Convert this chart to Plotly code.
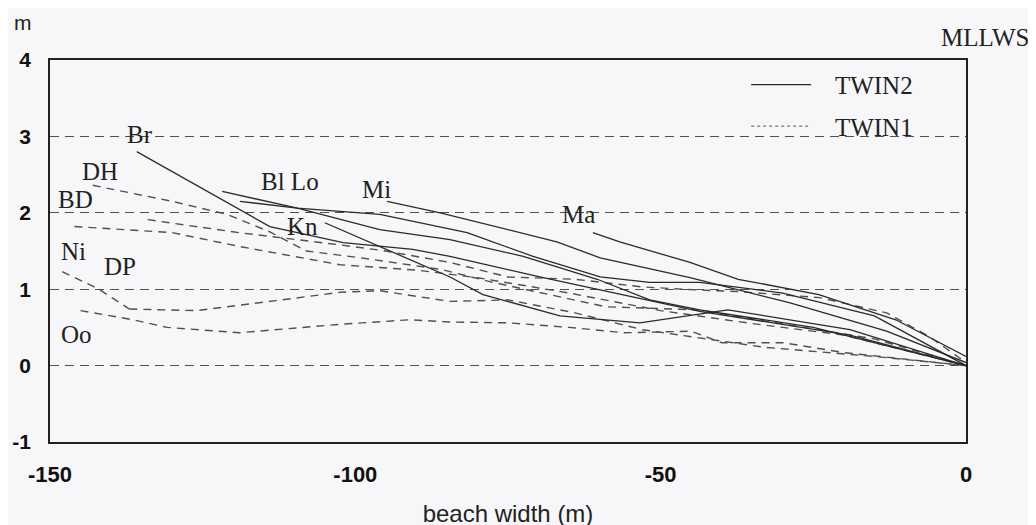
import plotly.graph_objects as go

# ---- data (beach width in m, elevation in m above MLLWS) ----
# TWIN2 profiles (solid)
br_x = [-135.8, -114.0, -102.0, -90.6, -84.5, -69.8, -43.6, -19.0, 0]
br_y = [2.80, 1.82, 1.61, 1.52, 1.43, 1.16, 0.71, 0.40, 0.0]
bl_x = [-121.8, -109.5, -96.0, -81.7, -70.9, -59.9, -51.8, -43.6, -30.0, -15.0, 0]
bl_y = [2.28, 2.06, 1.98, 1.74, 1.43, 1.16, 1.09, 1.09, 0.95, 0.65, 0.0]
lo_x = [-118.9, -109.5, -96.0, -84.5, -72.5, -60.4, -51.8, -43.6, -25.0, 0]
lo_y = [2.15, 2.06, 1.78, 1.65, 1.43, 1.13, 0.86, 0.73, 0.50, 0.0]
kn_x = [-105.0, -84.5, -79.1, -66.5, -53.4, -39.0, -19.0, 0]
kn_y = [1.87, 1.16, 0.93, 0.65, 0.56, 0.73, 0.47, 0.0]
mi_x = [-94.8, -86.1, -67.0, -59.9, -45.2, -28.8, -13.0, 0]
mi_y = [2.15, 2.00, 1.62, 1.41, 1.15, 0.82, 0.45, 0.04]
ma_x = [-61.1, -56.7, -45.2, -37.3, -24.1, -11.5, 0]
ma_y = [1.74, 1.62, 1.35, 1.13, 0.93, 0.60, 0.12]

# TWIN1 profiles (dashed)
dh_x = [-143.0, -130.0, -121.0, -114.0, -108.0, -100.0, -86.0, -78.0, -70.0, -59.0, -44.0, -30.0, -15.0, 0]
dh_y = [2.36, 2.15, 1.98, 1.75, 1.50, 1.42, 1.26, 1.10, 0.96, 0.77, 0.73, 0.55, 0.35, 0.0]
xx_x = [-134.0, -119.0, -102.5, -95.0, -84.5, -75.0, -64.0, -53.0, -44.0, -37.5, -24.0, -13.0, -6.0, 0]
xx_y = [1.91, 1.74, 1.58, 1.50, 1.35, 1.16, 1.13, 1.03, 0.99, 0.97, 0.89, 0.69, 0.38, 0.04]
bd_x = [-146.0, -130.0, -119.0, -102.5, -90.0, -80.0, -65.0, -50.0, -35.0, -20.0, 0]
bd_y = [1.82, 1.74, 1.56, 1.32, 1.25, 1.15, 0.95, 0.72, 0.55, 0.40, 0.0]
ni_x = [-148.0, -142.0, -137.0]
ni_y = [1.23, 1.00, 0.74]
dp_x = [-137.0, -126.0, -113.0, -102.5, -96.0, -84.5, -75.0, -64.0, -53.0, -44.0, -33.0, -15.0, 0]
dp_y = [0.74, 0.72, 0.85, 0.96, 0.98, 0.84, 0.86, 0.69, 0.47, 0.37, 0.24, 0.12, 0.0]
oo_x = [-145.0, -136.4, -130.8, -119.0, -102.5, -91.0, -84.5, -75.0, -65.0, -56.0, -45.0, -40.0, -30.0, -20.0, 0]
oo_y = [0.72, 0.60, 0.50, 0.43, 0.54, 0.60, 0.57, 0.56, 0.50, 0.43, 0.45, 0.30, 0.30, 0.17, 0.0]

solid_series = [(br_x, br_y), (bl_x, bl_y), (lo_x, lo_y), (kn_x, kn_y), (mi_x, mi_y), (ma_x, ma_y)]
dashed_series = [(dh_x, dh_y), (xx_x, xx_y), (bd_x, bd_y), (ni_x, ni_y), (dp_x, dp_y), (oo_x, oo_y)]

# site labels (text, x, y)
label_text = ["Br", "DH", "BD", "Ni", "DP", "Oo", "Bl Lo", "Kn", "Mi", "Ma"]
label_x = [-135.3, -141.8, -145.9, -146.2, -138.5, -145.6, -110.7, -108.6, -96.5, -63.5]
label_y = [3.02, 2.54, 2.17, 1.49, 1.30, 0.41, 2.41, 1.82, 2.30, 1.98]

x_ticks = [-150, -100, -50, 0]
y_ticks = [-1, 0, 1, 2, 3, 4]

SOLID = "#2a2a2a"
DASHC = "#505050"
BG = "#f7f7f9"
SERIF = "Liberation Serif, Times New Roman, serif"
SANS = "Liberation Sans, Arial, sans-serif"
NB = "\u00a0"

fig = go.Figure()

for xs, ys in dashed_series:
    fig.add_trace(go.Scatter(x=xs, y=ys, mode="lines", showlegend=False,
                             line=dict(color=DASHC, width=1.4, dash="8px,6px")))
for xs, ys in solid_series:
    fig.add_trace(go.Scatter(x=xs, y=ys, mode="lines", showlegend=False,
                             line=dict(color=SOLID, width=1.3)))

# legend entries
fig.add_trace(go.Scatter(x=[None], y=[None], mode="lines", name=NB * 3 + "TWIN2",
                         legendgroup="a", line=dict(color=SOLID, width=1.3)))
fig.add_trace(go.Scatter(x=[None], y=[None], mode="lines", name=NB * 3 + "TWIN1",
                         legendgroup="b", line=dict(color="#777777", width=1.2, dash="dot")))

for t, lx, ly in zip(label_text, label_x, label_y):
    fig.add_annotation(x=lx, y=ly, text=t, showarrow=False,
                       font=dict(family=SERIF, size=25, color="#222"))

fig.add_annotation(xref="paper", yref="paper", x=1.071, y=1.058, text="MLLWS", showarrow=False,
                   xanchor="right", yanchor="middle",
                   font=dict(family=SERIF, size=25, color="#222"))
fig.add_annotation(xref="paper", yref="paper", x=-0.029, y=1.097, text="m", showarrow=False,
                   xanchor="center", yanchor="middle",
                   font=dict(family=SANS, size=21, color="#222"))

fig.update_layout(
    width=1036, height=525,
    margin=dict(l=42, r=78, t=52, b=91),
    paper_bgcolor=BG, plot_bgcolor=BG,
    font=dict(family=SANS, color="#222"),
    legend=dict(x=0.76, y=0.995, xanchor="left", yanchor="top",
                bgcolor="rgba(0,0,0,0)", borderwidth=0, tracegroupgap=6,
                itemwidth=60,
                font=dict(family=SERIF, size=25, color="#222")),
    xaxis=dict(range=[-150, 0], tickvals=x_ticks, ticktext=[f"<b>{v}</b>" for v in x_ticks],
               showgrid=False, zeroline=False, showline=True, mirror=True, automargin=False,
               linecolor="#222", linewidth=1.5, ticks="", ticklabelstandoff=12,
               tickfont=dict(size=22, family=SANS, color="#111"),
               title=dict(text="beach width (m)", standoff=19,
                          font=dict(size=24, family=SANS, color="#222"))),
    yaxis=dict(range=[-1, 4], tickvals=y_ticks, ticktext=[f"<b>{v}</b>" for v in y_ticks],
               showgrid=True, gridcolor=DASHC, gridwidth=1.3, griddash="9px,6px",
               zeroline=False, showline=True, mirror=True, automargin=False,
               linecolor="#222", linewidth=1.5, ticks="", ticklabelstandoff=13,
               tickfont=dict(size=21, family=SANS, color="#111")),
)

fig.write_html("out.html")
